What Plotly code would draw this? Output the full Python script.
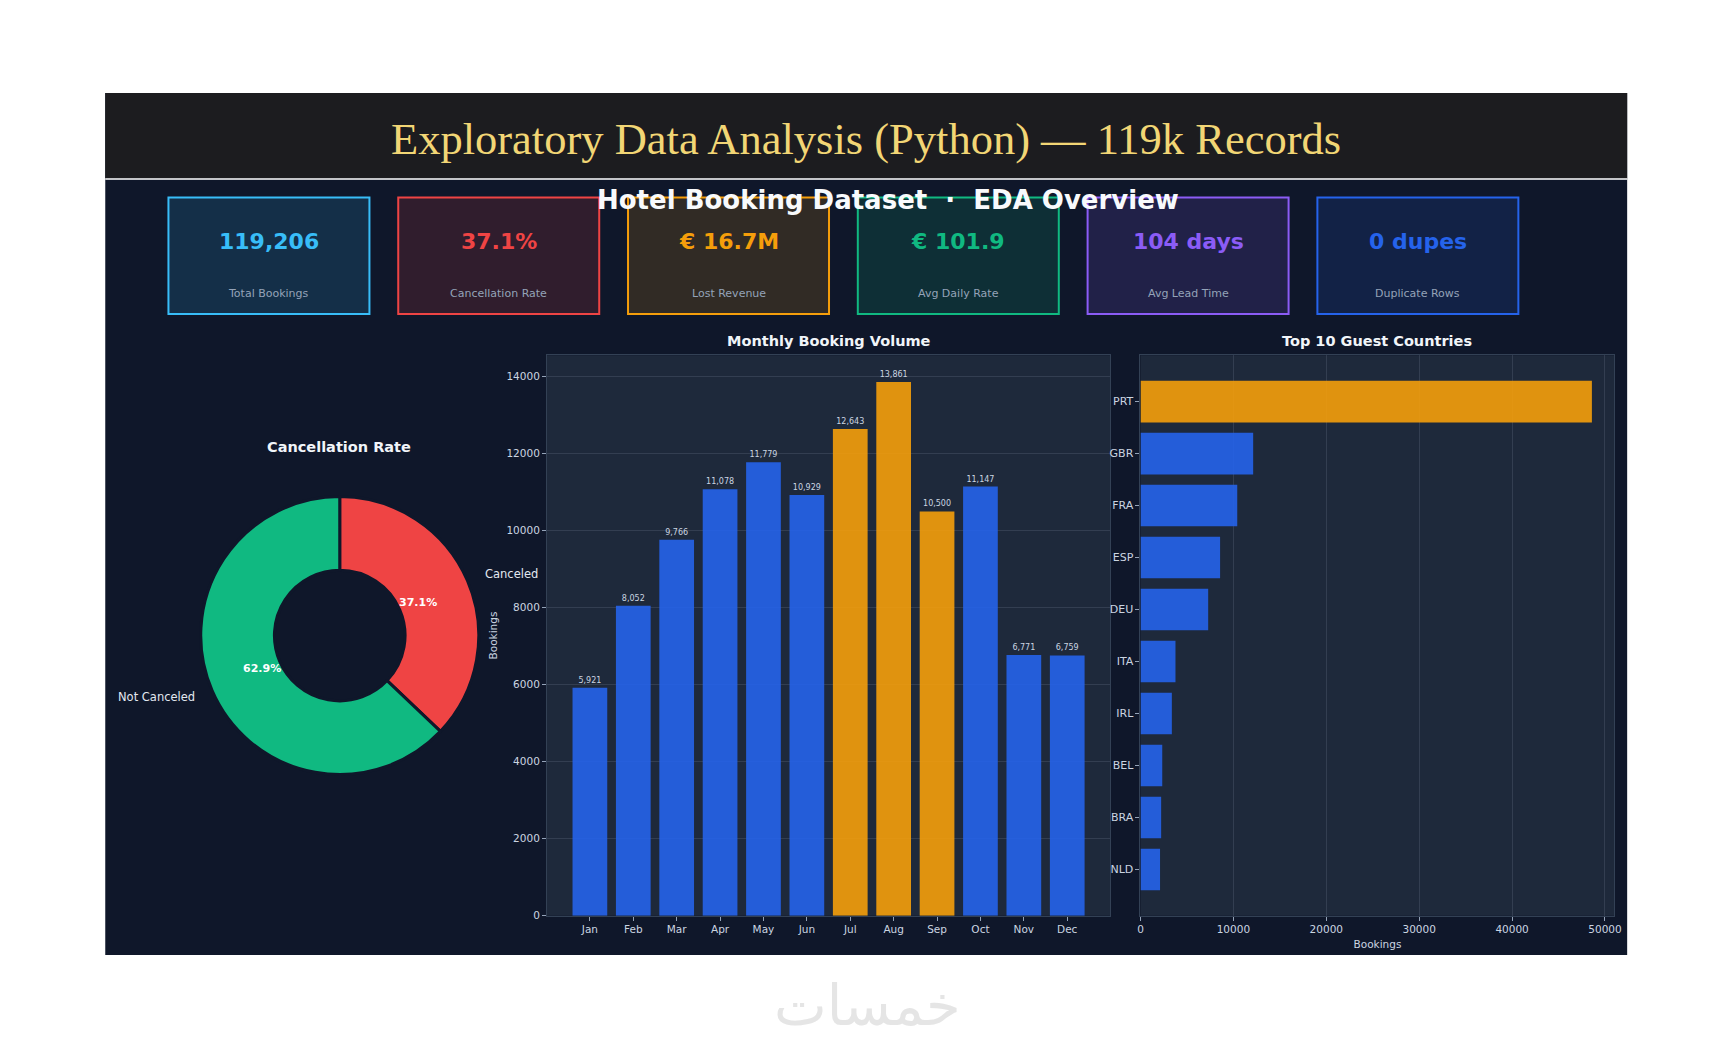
import math
import plotly.graph_objects as go

# the page body adds an 8px margin, so the figure is drawn 8px smaller on each side
OFF = 8
W, H = 1732 - 2 * OFF, 1053 - 2 * OFF
K = 1.0058    # small correction between measured and rendered pixel positions
DX = -2.8     # horizontal nudge

# KPI cards
kpi_values = ['119,206', '37.1%', '€ 16.7M', '€ 101.9', '104 days', '0 dupes']
kpi_labels = ['Total Bookings', 'Cancellation Rate', 'Lost Revenue',
              'Avg Daily Rate', 'Avg Lead Time', 'Duplicate Rows']
kpi_colors = ['#38bdf8', '#ef4444', '#f59e0b', '#10b981', '#8b5cf6', '#2563eb']

# cancellation split
cancel_labels = ['Canceled', 'Not Canceled']
cancel_counts = [44224, 74982]
cancel_colors = ['#ef4444', '#10b981']

# monthly volume
months = ['Jan', 'Feb', 'Mar', 'Apr', 'May', 'Jun',
          'Jul', 'Aug', 'Sep', 'Oct', 'Nov', 'Dec']
monthly_bookings = [5921, 8052, 9766, 11078, 11779, 10929,
                    12643, 13861, 10500, 11147, 6771, 6759]
peak_months = ['Jul', 'Aug', 'Sep']

# top countries
countries = ['PRT', 'GBR', 'FRA', 'ESP', 'DEU', 'ITA', 'IRL', 'BEL', 'BRA', 'NLD']
country_bookings = [48590, 12129, 10415, 8568, 7287, 3766, 3375, 2342, 2224, 2104]

BLUE = '#2563eb'
AMBER = '#f59e0b'
PANEL = '#0f172a'
PLOTBG = '#1e293b'
TXT = '#cbd5e1'
FONT = 'DejaVu Sans'


def px(x):
    return (x * K - OFF + DX) / W


def py(y):
    return 1 - (y * K - OFF) / H


# pixel boxes (page coords) of the two cartesian plots and the donut
bar_box = (546.7, 1110, 355.3, 915.7)
cty_box = (1140.3, 1614.3, 355.3, 915.7)
pie_cx, pie_cy, pie_r = 339.5, 635.5, 139

fig = go.Figure()

fig.add_trace(go.Pie(
    labels=cancel_labels, values=cancel_counts, hole=0.47, sort=False,
    direction='clockwise', rotation=0, textinfo='none', hoverinfo='label+percent',
    marker=dict(colors=cancel_colors, line=dict(color=PANEL, width=3)),
    showlegend=False,
    domain=dict(x=[px(pie_cx - pie_r), px(pie_cx + pie_r)],
                y=[py(pie_cy + pie_r), py(pie_cy - pie_r)]),
))

fig.add_trace(go.Bar(
    x=months, y=monthly_bookings, width=0.8,
    marker=dict(color=[AMBER if m in peak_months else BLUE for m in months],
                opacity=0.9, line=dict(width=0)),
    texttemplate='%{y:,}', textposition='outside', constraintext='none',
    textfont=dict(size=8, color=TXT), cliponaxis=False,
    showlegend=False, xaxis='x', yaxis='y',
))

fig.add_trace(go.Bar(
    x=country_bookings, y=countries, orientation='h', width=0.8,
    marker=dict(color=[AMBER if i == 0 else BLUE for i in range(len(countries))],
                opacity=0.9, line=dict(width=0)),
    showlegend=False, xaxis='x2', yaxis='y2',
))

axis_style = dict(showline=True, linecolor='#334155', linewidth=1, mirror=True,
                  ticks='outside', ticklen=4, tickcolor='#94a3b8',
                  tickfont=dict(family=FONT, size=10.5, color=TXT), zeroline=False)
grid = 'rgba(148,163,184,0.18)'

fig.update_layout(
    xaxis=dict(axis_style, domain=[px(bar_box[0]), px(bar_box[1])], type='category',
               range=[-0.99, len(months) - 1 + 0.99], showgrid=False, anchor='y'),
    yaxis=dict(axis_style, domain=[py(bar_box[3]), py(bar_box[2])],
               range=[0, max(monthly_bookings) * 1.05], dtick=2000, tickformat='d',
               showgrid=True, gridcolor=grid, anchor='x',
               title=dict(text='Bookings', standoff=6,
                          font=dict(family=FONT, size=10.5, color=TXT))),
    xaxis2=dict(axis_style, domain=[px(cty_box[0]), px(cty_box[1])],
                range=[0, max(country_bookings) * 1.05], dtick=10000, tickformat='d',
                showgrid=True, gridcolor=grid, anchor='y2',
                title=dict(text='Bookings', standoff=6,
                           font=dict(family=FONT, size=10.5, color=TXT))),
    yaxis2=dict(axis_style, domain=[py(cty_box[3]), py(cty_box[2])], type='category',
                range=[len(countries) - 1 + 0.89, -0.89], showgrid=False, anchor='x2',
                tickfont=dict(family=FONT, size=11, color=TXT)),
)

shapes = []
# dark panel + header band
shapes.append(dict(type='rect', xref='paper', yref='paper', layer='below',
                   x0=px(105), x1=px(1627), y0=py(955), y1=py(93),
                   fillcolor=PANEL, line=dict(width=0)))
shapes.append(dict(type='rect', xref='paper', yref='paper', layer='below',
                   x0=px(105), x1=px(1627), y0=py(178.5), y1=py(93),
                   fillcolor='#1c1c1f', line=dict(width=0)))
shapes.append(dict(type='line', xref='paper', yref='paper', layer='below',
                   x0=px(105), x1=px(1627), y0=py(179), y1=py(179),
                   line=dict(color='white', width=1.5)))
# plot area backgrounds
for b in (bar_box, cty_box):
    shapes.append(dict(type='rect', xref='paper', yref='paper', layer='below',
                       x0=px(b[0]), x1=px(b[1]), y0=py(b[3]), y1=py(b[2]),
                       fillcolor=PLOTBG, line=dict(width=0)))

annotations = []


def label(x, y, text, size, color, family=FONT, xanchor='center'):
    annotations.append(dict(x=px(x), y=py(y), xref='paper', yref='paper',
                            xanchor=xanchor, yanchor='middle', showarrow=False,
                            text=text, font=dict(family=family, size=size, color=color)))


card_w, card_step, card_x0 = 201, 229.8, 268.7
for i, (val, lab, col) in enumerate(zip(kpi_values, kpi_labels, kpi_colors)):
    cx = card_x0 + i * card_step
    r, g, b = int(col[1:3], 16), int(col[3:5], 16), int(col[5:7], 16)
    shapes.append(dict(type='rect', xref='paper', yref='paper', layer='below',
                       x0=px(cx - card_w / 2), x1=px(cx + card_w / 2),
                       y0=py(314), y1=py(197.5),
                       fillcolor=f'rgba({r},{g},{b},0.15)',
                       line=dict(color=col, width=2)))
    label(cx, 241.5, f'<b>{val}</b>', 22, col)
    label(cx, 293.5, lab, 11, '#94a3b8')

# titles
label(866, 139, 'Exploratory Data Analysis (Python) — 119k Records', 44.5, '#f2d675',
      family='Liberation Serif')
label(888, 200, '<b>Hotel Booking Dataset\u00a0\u00a0·\u00a0\u00a0EDA Overview</b>', 26, '#f8fafc')
label(339, 447, '<b>Cancellation Rate</b>', 14.5, '#f1f5f9')
label((bar_box[0] + bar_box[1]) / 2, 341, '<b>Monthly Booking Volume</b>', 14.5, '#f1f5f9')
label((cty_box[0] + cty_box[1]) / 2, 341, '<b>Top 10 Guest Countries</b>', 14.5, '#f1f5f9')

# donut labels placed along each slice's bisector
total = sum(cancel_counts)
start = 0.0
for lab, cnt in zip(cancel_labels, cancel_counts):
    frac = cnt / total
    mid = math.radians((start + frac / 2) * 360)
    start += frac
    sx, sy = math.sin(mid), math.cos(mid)
    label(pie_cx + 0.61 * pie_r * sx, pie_cy - 0.61 * pie_r * sy,
          f'<b>{frac * 100:.1f}%</b>', 11, 'white')
    label(pie_cx + 1.12 * pie_r * sx, pie_cy - 1.12 * pie_r * sy, lab, 11.5, '#e2e8f0',
          xanchor='left' if sx > 0 else 'right')

# watermark
label(867, 1005, 'خمسات', 56, '#e5e5e5')

fig.update_layout(
    width=W, height=H, autosize=False,
    margin=dict(l=0, r=0, t=0, b=0),
    paper_bgcolor='white', plot_bgcolor='rgba(0,0,0,0)',
    font=dict(family=FONT, color=TXT),
    shapes=shapes, annotations=annotations,
    bargap=0.2,
)

fig.write_html('out.html')
